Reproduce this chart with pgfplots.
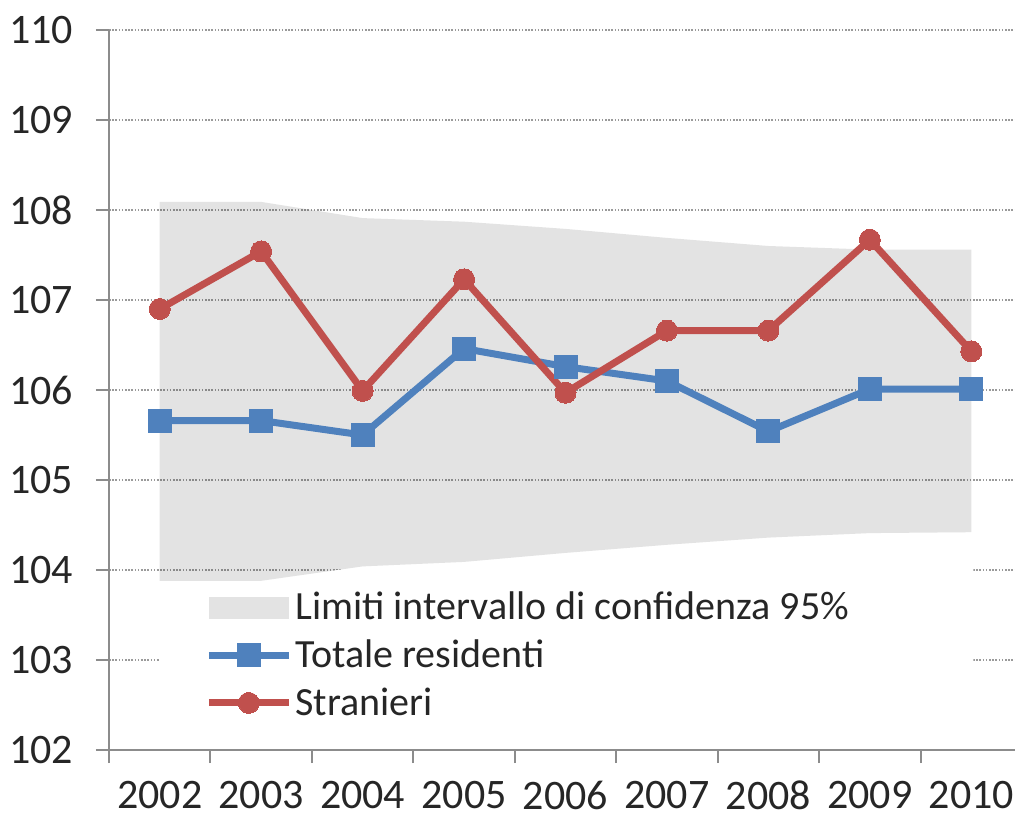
\documentclass[border=0pt]{standalone}
\usepackage{fontspec}
\setmainfont{Carlito}
\usepackage{pgfplots}
\pgfplotsset{compat=1.18}
\definecolor{cblue}{HTML}{4F81BD}
\definecolor{cred}{HTML}{C0504D}
\definecolor{band}{HTML}{E3E3E3}
\definecolor{axgray}{HTML}{8C8C8C}
\definecolor{gridgray}{HTML}{9A9A9A}
\begin{document}
\begin{tikzpicture}
\begin{axis}[
  name=ax,
  scale only axis, width=456.5pt, height=360pt,
  xmin=-0.5, xmax=8.5, ymin=102, ymax=110,
  axis x line=bottom, axis y line=left,
  axis line style={axgray, line width=1pt, -},
  tick align=outside,
  major tick length=6.5pt,
  tick style={axgray, line width=1pt},
  xtick={-0.5,0.5,...,8.5}, xticklabels={},
  extra x ticks={0,1,2,3,4,5,6,7,8},
  extra x tick labels={2002,2003,2004,2005,2006,2007,2008,2009,2010},
  extra x tick style={major tick length=0pt, grid=none},
  ytick={102,103,...,110},
  ymajorgrids,
  grid style={gridgray, line width=0.8pt, dash pattern=on 0.8pt off 0.8pt},
  /pgf/number format/assume math mode=true,
  ticklabel style={font=\fontsize{21}{21}\selectfont, text=black!85},
  yticklabel style={xshift=-8pt},
  xticklabel style={yshift=-12pt},
  legend image code/.code={\draw[mark repeat=2,mark phase=2] plot coordinates {(0pt,0pt) (20pt,0pt) (40pt,0pt)};},
  legend style={at={(0.105,0.224)}, anchor=north west, draw=none, fill=none,
    font=\fontsize{20}{24}\selectfont, row sep=5.5pt, inner sep=0pt,
    nodes={inner sep=1.5pt, text=black!85}},
  legend cell align=left,
]
% white legend background that hides the grid below the band
\addplot[draw=none, fill=white, forget plot]
  coordinates {(0,102.1) (0,103.88) (1,103.88) (2,104.04) (3,104.09) (4,104.19) (5,104.28) (6,104.36) (7,104.41) (8,104.42) (8.02,104.42) (8.02,102.1)} -- cycle;
\addplot[draw=none, fill=black, fill opacity=0.11,
  legend image code/.code={\fill[band, fill opacity=1] (0pt,-5.5pt) rectangle (40pt,5.5pt);}]
  coordinates {(0,108.09) (1,108.09) (2,107.91) (3,107.87) (4,107.79) (5,107.69) (6,107.60) (7,107.56) (8,107.56)
               (8,104.42) (7,104.41) (6,104.36) (5,104.28) (4,104.19) (3,104.09) (2,104.04) (1,103.88) (0,103.88)} -- cycle;
\addlegendentry{Limiti intervallo di confidenza 95\%}
\addplot[cblue, line width=3.5pt, mark=square*, mark size=5.75pt, mark options={line width=0pt}]
  coordinates {(0,105.66) (1,105.66) (2,105.50) (3,106.46) (4,106.26) (5,106.10) (6,105.54) (7,106.01) (8,106.01)};
\addlegendentry{Totale residenti}
\addplot[cred, line width=3.5pt, mark=*, mark size=5.25pt, mark options={line width=0pt}]
  coordinates {(0,106.90) (1,107.54) (2,105.99) (3,107.23) (4,105.97) (5,106.66) (6,106.66) (7,107.67) (8,106.43)};
\addlegendentry{Stranieri}
\end{axis}
\pgfresetboundingbox
\useasboundingbox ([shift={(-54.5pt,-34pt)}]ax.south west) rectangle ([shift={(-3.5pt,15pt)}]ax.north east);
\end{tikzpicture}
\end{document}
